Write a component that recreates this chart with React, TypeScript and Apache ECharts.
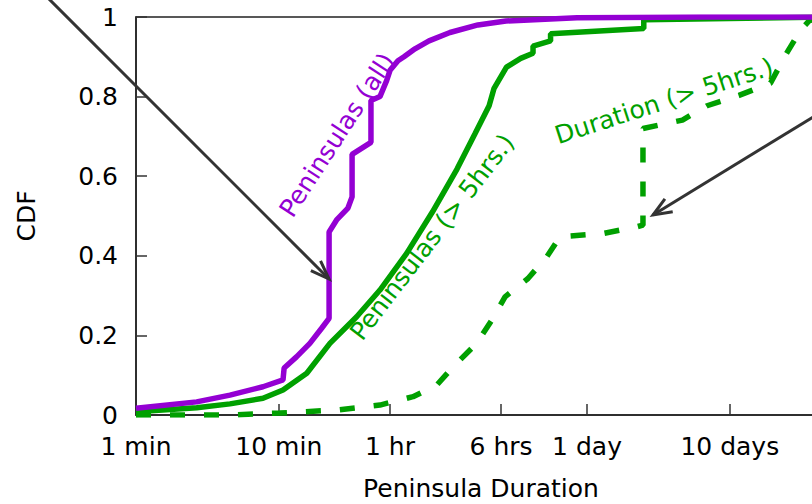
import React, { useEffect, useRef } from "react";
import * as echarts from "echarts";

// Durations in minutes, CDF values
const allMinutes = [1, 2.66, 4.55, 7.75, 10.7, 10.9, 13.3, 16.5, 19.95, 22.5, 22.5, 25.4, 30.5, 32.6, 32.6, 44.2, 44.2, 51.1, 56.9, 60.1, 68.3, 75.3, 89.9, 112.7, 158, 248, 390, 1225, 8900, 70000];
const allCdf = [0.017, 0.033, 0.05, 0.071, 0.088, 0.118, 0.146, 0.18, 0.218, 0.243, 0.46, 0.49, 0.52, 0.548, 0.655, 0.685, 0.79, 0.8, 0.84, 0.866, 0.89, 0.9, 0.92, 0.94, 0.961, 0.98, 0.99, 0.998, 1.0, 1.0];

const longMinutes = [1, 2.66, 4.55, 7.75, 10.7, 15.7, 22.8, 35.1, 51.1, 78.6, 119, 177, 236, 297, 321, 393, 494, 603, 603, 800, 800, 3597, 3597, 70000];
const longCdf = [0.008, 0.018, 0.028, 0.042, 0.063, 0.105, 0.18, 0.247, 0.314, 0.406, 0.51, 0.618, 0.706, 0.777, 0.82, 0.874, 0.896, 0.909, 0.927, 0.94, 0.958, 0.971, 0.993, 1.0];

const durMinutes = [1, 4.55, 10.2, 25.4, 51.1, 87.1, 127.6, 166, 243, 310, 384, 556, 751, 931, 1862, 3222, 3550, 3550, 6710, 9980, 16700, 27800, 34800, 45000, 51700, 61700];
const durCdf = [0, 0, 0.005, 0.0125, 0.025, 0.046, 0.075, 0.121, 0.18, 0.238, 0.297, 0.343, 0.397, 0.448, 0.456, 0.473, 0.477, 0.72, 0.741, 0.777, 0.803, 0.834, 0.9, 0.967, 0.99, 1.0];

const tickMinutes = [1, 10, 60, 360, 1440, 14400];
const tickLabels = ["1 min", "10 min", "1 hr", "6 hrs", "1 day", "10 days"];

const FONT = "DejaVu Sans";
const PURPLE = "#9400d3";
const GREEN = "#00a000";
const DARK = "#333333";

const toPairs = (xs: number[], ys: number[]) => xs.map((m, i) => [Math.log10(m), ys[i]]);

export default function App() {
  const ref = useRef<HTMLDivElement>(null);
  useEffect(() => {
    if (!ref.current) return;
    const chart = echarts.init(ref.current, null, { renderer: "svg" });
    const tickPos = tickMinutes.map((m) => Math.log10(m));
    const deg = Math.PI / 180;
    const arrowHead = (tx: number, ty: number, sx: number, sy: number, len: number, spread: number) => {
      const a = Math.atan2(sy - ty, sx - tx);
      return [
        [tx + len * Math.cos(a - spread), ty + len * Math.sin(a - spread)],
        [tx, ty],
        [tx + len * Math.cos(a + spread), ty + len * Math.sin(a + spread)],
      ];
    };
    const option: any = {
      animation: false,
      backgroundColor: "#ffffff",
      grid: {
        left: 136,
        top: 17,
        width: 690,
        height: 398,
        show: true,
        borderColor: "#222",
        borderWidth: 1.5,
        outerBoundsMode: "none",
      },
      xAxis: {
        type: "value",
        min: 0,
        max: 4.832,
        name: "Peninsula Duration",
        nameLocation: "middle",
        nameGap: 61,
        nameTextStyle: { fontFamily: FONT, fontSize: 25, color: "#000", lineHeight: 25 },
        axisLine: { lineStyle: { color: "#222", width: 1.5 } },
        axisTick: {
          inside: true,
          length: 11,
          customValues: tickPos,
          lineStyle: { color: "#333", width: 1.5 },
        },
        axisLabel: {
          customValues: tickPos,
          margin: 19,
          fontFamily: FONT,
          fontSize: 25,
          color: "#000",
          formatter: (v: number) => {
            const i = tickPos.findIndex((p) => Math.abs(p - v) < 1e-6);
            return i >= 0 ? tickLabels[i] : "";
          },
        },
        splitLine: { show: false },
      },
      yAxis: {
        type: "value",
        min: 0,
        max: 1,
        interval: 0.2,
        name: "CDF",
        nameLocation: "middle",
        nameGap: 97,
        nameRotate: 90,
        nameTextStyle: { fontFamily: FONT, fontSize: 25, color: "#000" },
        axisLine: { show: true, lineStyle: { color: "#222", width: 1.5 } },
        axisTick: { show: true, inside: true, length: 11, lineStyle: { color: "#333", width: 1.5 } },
        axisLabel: { margin: 18, fontFamily: FONT, fontSize: 25, color: "#000" },
        splitLine: { show: false },
      },
      series: [
        {
          name: "Duration (> 5hrs.)",
          type: "line",
          data: toPairs(durMinutes, durCdf),
          showSymbol: false,
          symbol: "none",
          lineStyle: { color: GREEN, width: 5.5, type: [15, 19], cap: "butt" },
          z: 2,
        },
        {
          name: "Peninsulas (> 5hrs.)",
          type: "line",
          data: toPairs(longMinutes, longCdf),
          showSymbol: false,
          symbol: "none",
          lineStyle: { color: GREEN, width: 5.5 },
          z: 3,
        },
        {
          name: "Peninsulas (all)",
          type: "line",
          data: toPairs(allMinutes, allCdf),
          showSymbol: false,
          symbol: "none",
          lineStyle: { color: PURPLE, width: 5.5 },
          z: 4,
        },
      ],
      graphic: [
        {
          type: "text",
          x: 337,
          y: 135,
          rotation: 57 * deg,
          style: { text: "Peninsulas (all)", fill: PURPLE, font: `25px '${FONT}'`, align: "center", verticalAlign: "middle" },
          z: 10,
        },
        {
          type: "text",
          x: 432,
          y: 237,
          rotation: 52.5 * deg,
          style: { text: "Peninsulas (> 5hrs.)", fill: GREEN, font: `25px '${FONT}'`, align: "center", verticalAlign: "middle" },
          z: 10,
        },
        {
          type: "text",
          x: 664,
          y: 101,
          rotation: 18 * deg,
          style: { text: "Duration (> 5hrs.)", fill: GREEN, font: `25px '${FONT}'`, align: "center", verticalAlign: "middle" },
          z: 10,
        },
        {
          type: "line",
          shape: { x1: 40, y1: -10, x2: 329, y2: 279 },
          style: { stroke: DARK, lineWidth: 3 },
          z: 11,
        },
        {
          type: "polyline",
          shape: { points: arrowHead(329, 279, 40, -10, 20, 20 * deg) },
          style: { stroke: DARK, lineWidth: 3, fill: null },
          z: 11,
        },
        {
          type: "line",
          shape: { x1: 840, y1: 100.6, x2: 653, y2: 215 },
          style: { stroke: DARK, lineWidth: 3 },
          z: 11,
        },
        {
          type: "polyline",
          shape: { points: arrowHead(653, 215, 840, 100.6, 20, 22 * deg) },
          style: { stroke: DARK, lineWidth: 3, fill: null },
          z: 11,
        },
      ],
    };
    chart.setOption(option);
    return () => chart.dispose();
  }, []);
  return (
    <div
      ref={ref}
      style={{ position: "absolute", left: 0, top: 0, width: 812, height: 504, background: "#fff" }}
    />
  );
}
